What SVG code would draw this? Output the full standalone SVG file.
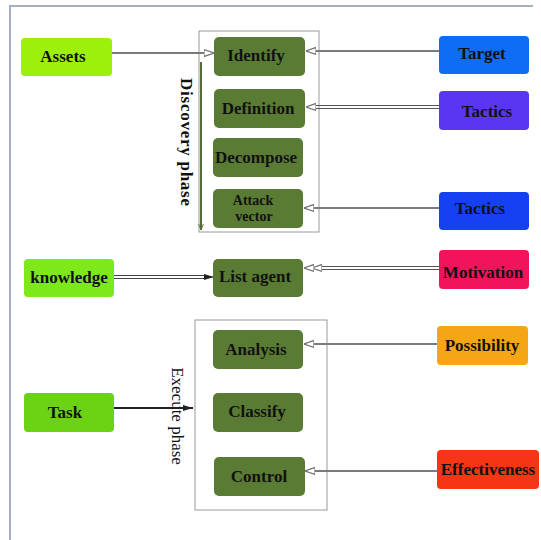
<svg xmlns="http://www.w3.org/2000/svg" width="541" height="540" viewBox="0 0 541 540">
<defs>
<style>
.lbl{font-family:"Liberation Serif","Times New Roman",serif;font-size:17px;font-weight:bold;fill:#111;text-anchor:middle;dominant-baseline:central}
.gn rect{fill:#5a7b33}
.frame{fill:none;stroke:#9a9a9a;stroke-width:1}
.con{fill:none;stroke:#7a7a7a;stroke-width:2}
.dbl{fill:none;stroke:#555;stroke-width:1}
</style>
<marker id="open" viewBox="0 0 10 10" refX="10" refY="5" markerWidth="10" markerHeight="10" markerUnits="userSpaceOnUse" orient="auto">
<path d="M0,1.5 L10,5 L0,8.5 Z" fill="#fff" stroke="#777" stroke-width="1.2"/>
</marker>
<marker id="filled" viewBox="0 0 10 10" refX="10" refY="5" markerWidth="10" markerHeight="10" markerUnits="userSpaceOnUse" orient="auto">
<path d="M0,2 L10,5 L0,8 Z" fill="#222"/>
</marker>
<marker id="thin" viewBox="0 0 10 10" refX="5" refY="10" markerWidth="6" markerHeight="10" markerUnits="userSpaceOnUse" orient="0">
<path d="M1,0 L5,10 L9,0" fill="none" stroke="#556b3a" stroke-width="1.5"/>
</marker>
</defs>
<rect width="541" height="540" fill="#fff"/>
<path d="M10,540 V6 H533" fill="none" stroke="#a3b0c4" stroke-width="2"/>

<g id="discovery-frame">
<rect class="frame" x="199" y="31" width="120" height="201"/>
<text transform="translate(181,142) rotate(90)" textLength="128" lengthAdjust="spacing" x="0" y="0" style="font-family:'Liberation Serif','Times New Roman',serif;font-size:17px;font-weight:bold;fill:#111;text-anchor:middle">Discovery  phase</text>
</g>
<g id="execute-frame">
<rect class="frame" x="195" y="320" width="132" height="190"/>
<text transform="translate(172,416) rotate(90)" style="font-family:'Liberation Serif','Times New Roman',serif;font-size:17px;fill:#111;text-anchor:middle">Execute phase</text>
</g>

<g id="connectors">
<line class="con" x1="112" y1="53" x2="214" y2="53" marker-end="url(#open)" stroke="#666"/>
<line x1="201" y1="62" x2="201" y2="230" stroke="#556b3a" stroke-width="2" marker-end="url(#thin)"/>
<line class="con" x1="439" y1="51" x2="306" y2="51" marker-end="url(#open)"/>
<g>
<line class="dbl" x1="439" y1="105.5" x2="314" y2="105.5"/>
<line class="dbl" x1="439" y1="108.5" x2="314" y2="108.5"/>
<line x1="314" y1="107" x2="306" y2="107" stroke="none" marker-end="url(#open)"/>
</g>
<line class="con" x1="439" y1="208" x2="304" y2="208" marker-end="url(#open)"/>
<g>
<line x1="114" y1="275.5" x2="205" y2="275.5" stroke="#444" stroke-width="1.2"/>
<line x1="114" y1="278.5" x2="205" y2="278.5" stroke="#444" stroke-width="1.2"/>
<line x1="205" y1="277" x2="214" y2="277" stroke="#333" stroke-width="1" marker-end="url(#filled)"/>
</g>
<g>
<line class="dbl" x1="439" y1="266.5" x2="318" y2="266.5"/>
<line class="dbl" x1="439" y1="269.5" x2="318" y2="269.5"/>
<line x1="318" y1="268" x2="312" y2="268" stroke="none" marker-end="url(#open)"/>
<line x1="312" y1="268" x2="304" y2="268" stroke="none" marker-end="url(#open)"/>
</g>
<line class="con" x1="437" y1="344" x2="304" y2="344" marker-end="url(#open)"/>
<line class="con" x1="437" y1="471" x2="305" y2="471" marker-end="url(#open)"/>
<line x1="114" y1="408" x2="193" y2="408" stroke="#222" stroke-width="2" marker-end="url(#filled)"/>
</g>

<g id="assets"><rect x="21" y="38" width="91" height="38" rx="4" fill="#9cf00c"/><text class="lbl" x="63" y="56">Assets</text></g>
<g id="knowledge"><rect x="24" y="259" width="90" height="38" rx="4" fill="#7de81a"/><text class="lbl" x="69" y="277">knowledge</text></g>
<g id="task"><rect x="24" y="393" width="90" height="39" rx="4" fill="#6bd314"/><text class="lbl" x="65" y="412">Task</text></g>

<g id="identify" class="gn"><rect x="214" y="37" width="91" height="39" rx="5"/><text class="lbl" x="256" y="55">Identify</text></g>
<g id="definition" class="gn"><rect x="214" y="89" width="91" height="39" rx="5"/><text class="lbl" x="258" y="108">Definition</text></g>
<g id="decompose" class="gn"><rect x="213" y="138" width="90" height="39" rx="5"/><text class="lbl" x="256" y="157">Decompose</text></g>
<g id="attack-vector" class="gn"><rect x="213" y="189" width="90" height="39" rx="5"/><text class="lbl" x="253" y="200" style="font-size:14px">Attack</text><text class="lbl" x="254" y="216" style="font-size:14px">vector</text></g>
<g id="list-agent" class="gn"><rect x="213" y="259" width="90" height="38" rx="5"/><text class="lbl" x="255" y="276">List agent</text></g>
<g id="analysis" class="gn"><rect x="213" y="330" width="90" height="39" rx="5"/><text class="lbl" x="256" y="349">Analysis</text></g>
<g id="classify" class="gn"><rect x="213" y="393" width="90" height="39" rx="5"/><text class="lbl" x="257" y="411">Classify</text></g>
<g id="control" class="gn"><rect x="214" y="457" width="91" height="39" rx="5"/><text class="lbl" x="259" y="476">Control</text></g>

<g id="target"><rect x="439" y="36" width="90" height="38" rx="4" fill="#0f6cf5"/><text class="lbl" x="482" y="53">Target</text></g>
<g id="tactics-1"><rect x="439" y="91" width="90" height="39" rx="4" fill="#5b36f2"/><text class="lbl" x="487" y="111">Tactics</text></g>
<g id="tactics-2"><rect x="439" y="192" width="90" height="38" rx="4" fill="#1541f2"/><text class="lbl" x="480" y="208">Tactics</text></g>
<g id="motivation"><rect x="439" y="250" width="90" height="39" rx="4" fill="#f0145a"/><text class="lbl" x="483" y="272">Motivation</text></g>
<g id="possibility"><rect x="437" y="326" width="91" height="39" rx="4" fill="#f5a614"/><text class="lbl" x="482" y="345">Possibility</text></g>
<g id="effectiveness"><rect x="437" y="450" width="102" height="39" rx="4" fill="#f53514"/><text class="lbl" x="488" y="469">Effectiveness</text></g>
</svg>
